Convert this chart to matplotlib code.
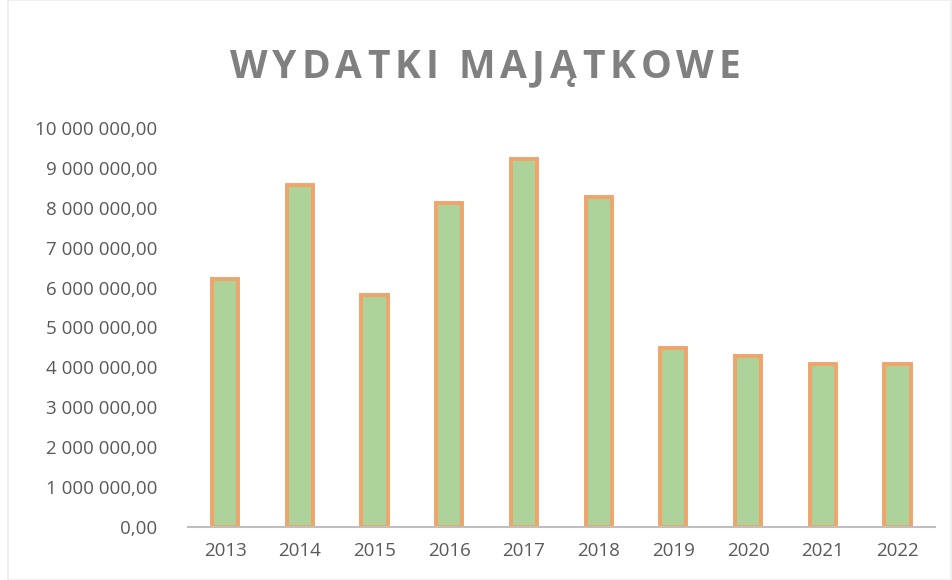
import matplotlib
matplotlib.use("Agg")
import matplotlib.pyplot as plt
from matplotlib.ticker import FuncFormatter
from matplotlib.patches import Rectangle

years = ["2013", "2014", "2015", "2016", "2017", "2018", "2019", "2020", "2021", "2022"]
values = [6220000, 8570000, 5820000, 8130000, 9230000, 8280000, 4490000, 4290000, 4090000, 4090000]
title = "WYDATKI MAJĄTKOWE"

fig = plt.figure(figsize=(9.53, 5.8), dpi=100)
fig.patch.set_facecolor("white")
ax = fig.add_axes([0.197, 0.0914, 0.784, 0.688])

x = range(len(years))
ax.bar(x, values, width=0.35, color="#aed39a", edgecolor="#f0a36a", linewidth=2.8)

ax.set_xlim(-0.5, len(years) - 0.5)
ax.set_ylim(0, 10000000)
ax.set_yticks([i * 1000000 for i in range(11)])

def fmt(v, pos):
    s = f"{int(round(v)):,}".replace(",", " ")
    return s + ",00"

ax.yaxis.set_major_formatter(FuncFormatter(fmt))
ax.set_xticks(list(x))
ax.set_xticklabels(years)

for sp in ["top", "right", "left"]:
    ax.spines[sp].set_visible(False)
ax.spines["bottom"].set_color("#bfbfbf")
ax.spines["bottom"].set_linewidth(1.5)
ax.tick_params(axis="both", length=0, labelsize=13.5, colors="#595959")
ax.tick_params(axis="y", pad=22)
ax.tick_params(axis="x", pad=11)
for lab in ax.get_xticklabels() + ax.get_yticklabels():
    lab.set_fontfamily("Open Sans")

# Title with letter spacing (tracking)
renderer = fig.canvas.get_renderer()
W = fig.get_figwidth() * fig.dpi
tracking = 5.0  # px between letters
chars = []
widths = []
for ch in title:
    t = fig.text(0, 0, ch, fontsize=28, fontweight="bold", color="#808080",
                 family="Open Sans", ha="left", va="center")
    w = t.get_window_extent(renderer=renderer).width
    chars.append(t)
    widths.append(w)
total = sum(widths) + tracking * (len(title) - 1)
cx = 0.509 * W
xpos = cx - total / 2
for t, w in zip(chars, widths):
    t.set_position((xpos / W, 0.883))
    xpos += w + tracking

fig.patches.append(Rectangle((0.008, 0.0), 0.99, 1.0, transform=fig.transFigure,
                             fill=False, edgecolor="#ececec", linewidth=1.2))

fig.savefig("out.png", dpi=100)
